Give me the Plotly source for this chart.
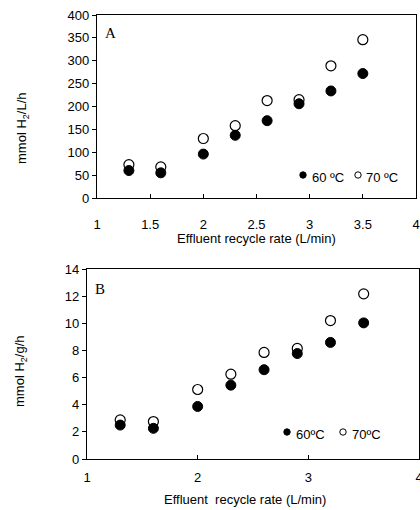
import plotly.graph_objects as go

rate = [1.3, 1.6, 2.0, 2.3, 2.6, 2.9, 3.2, 3.5]
a_60 = [60, 55, 96, 137, 169, 206, 234, 272]
a_70 = [73, 68, 130, 158, 213, 215, 289, 346]
b_60 = [2.5, 2.26, 3.87, 5.44, 6.58, 7.77, 8.59, 10.03]
b_70 = [2.88, 2.76, 5.12, 6.25, 7.85, 8.15, 10.2, 12.17]

a_xticks = [1, 1.5, 2, 2.5, 3, 3.5, 4]
a_yticks = [0, 50, 100, 150, 200, 250, 300, 350, 400]
b_xticks = [1, 2, 3, 4]
b_yticks = [0, 2, 4, 6, 8, 10, 12, 14]

W, H = 420, 510
FONT = "Liberation Sans"
FS = 13

def px(x):
    return x / W

def py(y):
    return 1 - y / H

fig = go.Figure()
open_m = dict(symbol="circle", size=10, color="white", line=dict(color="black", width=1.2))
fill_m = dict(symbol="circle", size=10, color="black", line=dict(color="black", width=1))

fig.add_trace(go.Scatter(x=rate, y=a_70, mode="markers", marker=open_m, xaxis="x", yaxis="y", showlegend=False))
fig.add_trace(go.Scatter(x=rate, y=a_60, mode="markers", marker=fill_m, xaxis="x", yaxis="y", showlegend=False))
fig.add_trace(go.Scatter(x=rate, y=b_70, mode="markers", marker=open_m, xaxis="x2", yaxis="y2", showlegend=False))
fig.add_trace(go.Scatter(x=rate, y=b_60, mode="markers", marker=fill_m, xaxis="x2", yaxis="y2", showlegend=False))

axis_common = dict(showgrid=False, zeroline=False, showline=True, linecolor="black", linewidth=1.3,
                   mirror=True, tickfont=dict(family=FONT, size=FS, color="black"),
                   ticklen=4, tickcolor="black", tickwidth=1, automargin=False,
                   ticklabeloverflow="allow")

fig.update_layout(
    width=W, height=H, margin=dict(l=0, r=0, t=0, b=0, autoexpand=False),
    paper_bgcolor="white", plot_bgcolor="white",
    xaxis=dict(domain=[px(97), px(416)], range=[1, 4], tickvals=a_xticks, ticks="inside",
               ticklabelstandoff=14, anchor="y", **axis_common),
    yaxis=dict(domain=[py(198), py(15)], range=[0, 400], tickvals=a_yticks, ticks="outside",
               anchor="x", **axis_common),
    xaxis2=dict(domain=[px(87), px(419)], range=[1, 4], tickvals=b_xticks, ticks="inside",
                ticklabelstandoff=6, anchor="y2", **axis_common),
    yaxis2=dict(domain=[py(459), py(269)], range=[0, 14], tickvals=b_yticks, ticks="outside",
                anchor="x2", **axis_common),
)

ann = []
def add(text, x, y, size=FS, family=FONT, xanchor="center", textangle=0):
    ann.append(dict(text=text, x=px(x), y=py(y), xref="paper", yref="paper", showarrow=False,
                    xanchor=xanchor, yanchor="middle", textangle=textangle,
                    font=dict(family=family, size=size, color="black")))

add("mmol H<sub>2</sub>/L/h", 22, 128, textangle=-90)
add("mmol H<sub>2</sub>/g/h", 20, 371, textangle=-90)
add("Effluent recycle rate (L/min)", 256, 238)
add("Effluent  recycle rate (L/min)", 245, 499)
add("A", 103, 33, size=15, family="Liberation Serif", xanchor="left")
add("B", 93, 289, size=15, family="Liberation Serif", xanchor="left")
# legend labels
add("60 ºC", 310, 177, xanchor="left")
add("70 ºC", 364, 177, xanchor="left")
add("60ºC", 294, 434, xanchor="left")
add("70ºC", 350, 434, xanchor="left")
fig.update_layout(annotations=ann)

# legend symbols
shapes = []
def dot(cx, cy, filled):
    r = 3.2
    shapes.append(dict(type="circle", xref="paper", yref="paper",
                       x0=px(cx - r), x1=px(cx + r), y0=py(cy + r), y1=py(cy - r),
                       fillcolor="black" if filled else "white",
                       line=dict(color="black", width=1)))
dot(303, 175, True)
dot(358, 175, False)
dot(287, 432, True)
dot(343, 432, False)
fig.update_layout(shapes=shapes)

fig.write_html("out.html")
